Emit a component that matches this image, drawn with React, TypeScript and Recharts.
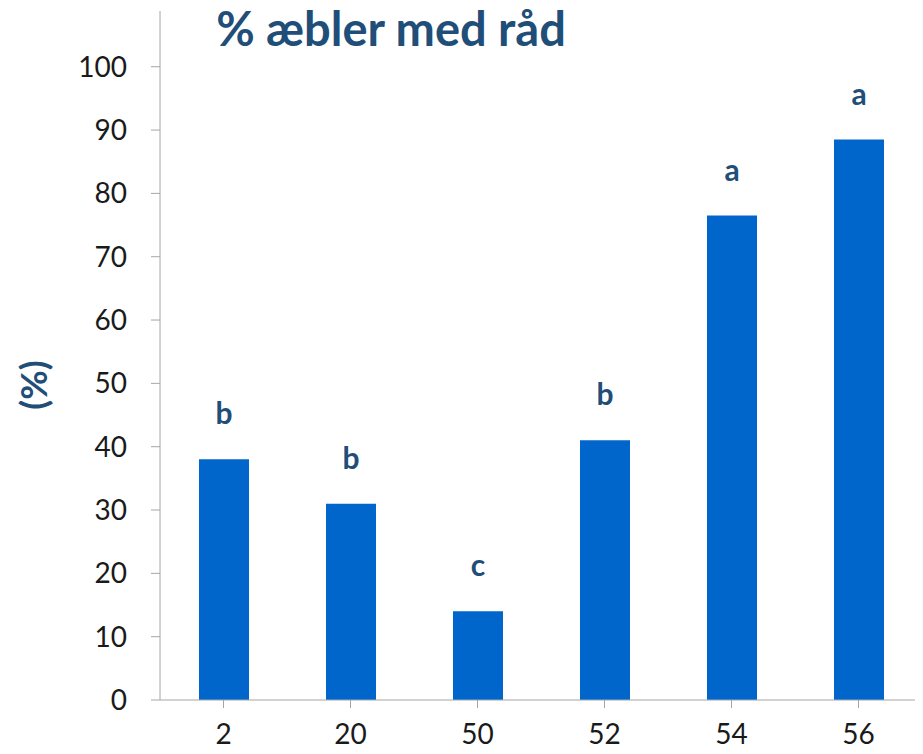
import { BarChart, Bar, XAxis, YAxis, LabelList } from "recharts";

const categories = ["2", "20", "50", "52", "54", "56"];
const values = [38, 31, 14, 41, 76.5, 88.5];
const letters = ["b", "b", "c", "b", "a", "a"];
const yTicks = [0, 10, 20, 30, 40, 50, 60, 70, 80, 90, 100];

const data = categories.map((c, i) => ({ name: c, value: values[i], letter: letters[i] }));

const FONT = "Lato, 'DejaVu Sans', sans-serif";
const DARK = "#1F4E79";

const LetterLabel = (props: any) => {
  const { x, y, width, value } = props;
  return (
    <text
      x={x + width / 2}
      y={y - 35}
      textAnchor="middle"
      fontFamily={FONT}
      fontWeight="bold"
      fontSize={30}
      fill={DARK}
    >
      {value}
    </text>
  );
};

export default function App() {
  return (
    <div style={{ margin: -8, position: "relative", width: 923, height: 754 }}>
      <BarChart
        width={923}
        height={754}
        data={data}
        margin={{ top: 11, right: 1, left: 0, bottom: 0 }}
        barSize={50}
      >
        <XAxis
          dataKey="name"
          height={54}
          stroke="#a6a6a6"
          tickLine={{ stroke: "#a6a6a6" }}
          tickSize={8}
          interval={0}
          tick={{ fill: "#1a1a1a", fontSize: 28, fontFamily: FONT, dy: 14 }}
        />
        <YAxis
          width={160}
          domain={[0, 108.8]}
          ticks={yTicks}
          interval={0}
          stroke="#a6a6a6"
          tickSize={9}
          tick={{ fill: "#1a1a1a", fontSize: 28, fontFamily: FONT, dx: -22 }}
        />
        <Bar dataKey="value" fill="#0066CC" isAnimationActive={false}>
          <LabelList dataKey="letter" content={<LetterLabel />} />
        </Bar>
        <text
          x={391}
          y={46}
          textAnchor="middle"
          fontFamily={FONT}
          fontWeight="bold"
          fontSize={47}
          fill={DARK}
        >
          % æbler med råd
        </text>
        <text
          x={47}
          y={385}
          textAnchor="middle"
          fontFamily={FONT}
          fontWeight="bold"
          fontSize={36}
          fill={DARK}
          transform="rotate(-90 47 385)"
        >
          (%)
        </text>
      </BarChart>
    </div>
  );
}
